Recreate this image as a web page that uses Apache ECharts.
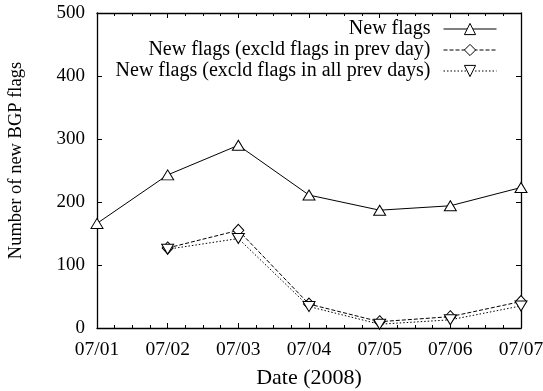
<!DOCTYPE html>
<html>
<head>
<meta charset="utf-8">
<script src="https://cdn.jsdelivr.net/npm/echarts@6/dist/echarts.min.js"></script>
<style>
  html, body { margin: 0; padding: 0; background: #fff; }
  #chart { width: 543px; height: 391px; }
</style>
</head>
<body>
<div id="chart"></div>
<script>
// Daily counts of new BGP flags, first week of July 2008
const dates = ['07/01', '07/02', '07/03', '07/04', '07/05', '07/06', '07/07'];
const newFlags = [166, 243, 290, 211, 187, 194, 223];
const exclPrevDay = [null, 127, 155, 38, 10, 18, 42];
const exclAllPrevDays = [null, 125, 142, 34, 6, 13, 35];
const yTicks = [0, 100, 200, 300, 400, 500];

const seriesNames = [
  'New flags',
  'New flags (excld flags in prev day)',
  'New flags (excld flags in all prev days)'
];

const FONT = 'Liberation Serif';
const INK = '#000';

function toPoints(values) {
  return values.map((v, i) => (v == null ? null : [i, v])).filter(p => p !== null);
}

// Every axis draws one side of the closed frame, ticks pointing inward
function frameAxis(extra) {
  return Object.assign({
    axisLine: { show: true, onZero: false, lineStyle: { color: INK, width: 1.3 } },
    axisTick: { show: true, inside: true, length: 5, lineStyle: { color: INK, width: 1 } },
    splitLine: { show: false }
  }, extra);
}

const chart = echarts.init(document.getElementById('chart'), null, { renderer: 'canvas' });

chart.setOption({
  animation: false,
  backgroundColor: '#fff',
  grid: { left: 97, right: 22, top: 13, bottom: 63, containLabel: false, outerBoundsMode: 'none' },
  legend: {
    orient: 'vertical',
    right: 41,
    top: 14,
    align: 'right',
    itemWidth: 53,
    itemHeight: 14,
    itemGap: 1,
    data: seriesNames,
    lineStyle: { width: 1 },
    itemStyle: { borderWidth: 1 },
    textStyle: { fontFamily: FONT, fontSize: 20, color: INK, padding: [0, 8, 0, 0] }
  },
  xAxis: [
    frameAxis({
      type: 'value',
      position: 'bottom',
      min: 0,
      max: dates.length - 1,
      interval: 1,
      name: 'Date (2008)',
      nameLocation: 'middle',
      nameGap: 39,
      nameTextStyle: { fontFamily: FONT, fontSize: 22, color: INK },
      minorTick: { show: true, splitNumber: 4, length: 3, lineStyle: { color: INK, width: 1 } },
      axisLabel: {
        margin: 12,
        fontFamily: FONT, fontSize: 19.5, color: INK,
        formatter: v => dates[v] || ''
      }
    }),
    frameAxis({
      type: 'value',
      position: 'top',
      min: 0,
      max: dates.length - 1,
      interval: 1,
      minorTick: { show: true, splitNumber: 4, length: 3, lineStyle: { color: INK, width: 1 } },
      axisLabel: { show: false }
    })
  ],
  yAxis: [
    frameAxis({
      type: 'value',
      position: 'left',
      min: yTicks[0],
      max: yTicks[yTicks.length - 1],
      interval: 100,
      name: 'Number of new BGP flags',
      nameLocation: 'middle',
      nameRotate: 90,
      nameGap: 71,
      nameTextStyle: { fontFamily: FONT, fontSize: 18.5, color: INK, padding: [0, 0, 0, 20] },
      axisLabel: { margin: 12, fontFamily: FONT, fontSize: 19, color: INK }
    }),
    frameAxis({
      type: 'value',
      position: 'right',
      min: yTicks[0],
      max: yTicks[yTicks.length - 1],
      interval: 100,
      axisLabel: { show: false }
    })
  ],
  series: [
    {
      name: seriesNames[0],
      type: 'line',
      data: toPoints(newFlags),
      symbol: 'triangle',
      symbolSize: [12, 10],
      lineStyle: { color: INK, width: 1, type: 'solid' },
      itemStyle: { color: '#fff', borderColor: INK, borderWidth: 1 }
    },
    {
      name: seriesNames[1],
      type: 'line',
      data: toPoints(exclPrevDay),
      symbol: 'diamond',
      symbolSize: [11, 12],
      lineStyle: { color: INK, width: 1, type: [4, 2] },
      itemStyle: { color: '#fff', borderColor: INK, borderWidth: 1 }
    },
    {
      name: seriesNames[2],
      type: 'line',
      data: toPoints(exclAllPrevDays),
      symbol: 'triangle',
      symbolRotate: 180,
      symbolSize: [12, 10],
      lineStyle: { color: INK, width: 1, type: [1.5, 2] },
      itemStyle: { color: '#fff', borderColor: INK, borderWidth: 1 }
    }
  ]
});
</script>
</body>
</html>
